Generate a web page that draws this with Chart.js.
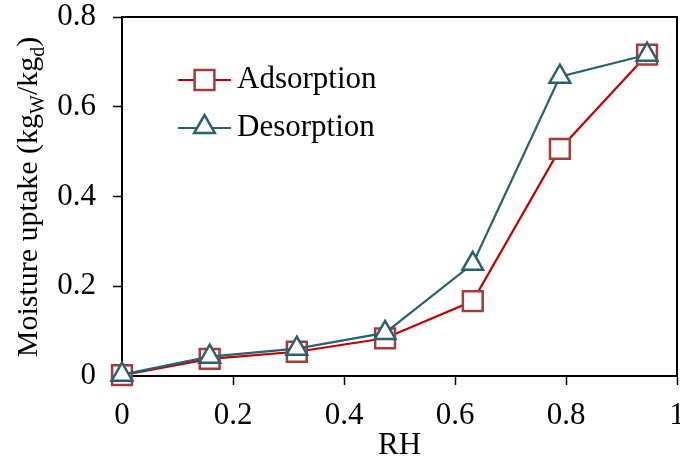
<!DOCTYPE html>
<html>
<head>
<meta charset="utf-8">
<script src="https://cdn.jsdelivr.net/npm/chart.js@4.4.1/dist/chart.umd.min.js"></script>
<style>
    html, body { margin: 0; padding: 0; background: #fff; }
    #wrap { width: 680px; height: 461px; }
</style>
</head>
<body>
<div id="wrap"><canvas id="canvas"></canvas></div>
<script>
"use strict"

/* Data */
let rh = [0, 0.158, 0.315, 0.474, 0.632, 0.789, 0.946];
let adsorption = [0.002, 0.038, 0.054, 0.084, 0.167, 0.506, 0.716];
let desorption = [0.003, 0.043, 0.061, 0.096, 0.25, 0.667, 0.716];
let seriesNames = ["Adsorption", "Desorption"];
let xTicks = [0, 0.2, 0.4, 0.6, 0.8, 1];
let yTicks = [0, 0.2, 0.4, 0.6, 0.8];

/* Colors */
let red = "#c00000";
let redMarker = "#a33c3c";
let teal = "#2a6170";

let serif = "'Liberation Serif', 'Times New Roman', serif";
let fontSize = 31;


function points(xs, ys) {
    return xs.map((x, i) => ({ x: x, y: ys[i] }));
}


// top and right border of the plot box
const frame = {
    id: "frame",
    afterDraw(chart) {
        const { ctx, chartArea: a } = chart;
        ctx.save();
        ctx.strokeStyle = "#000";
        ctx.lineWidth = 2;
        ctx.beginPath();
        ctx.moveTo(a.left, a.top);
        ctx.lineTo(a.right, a.top);
        ctx.lineTo(a.right, a.bottom);
        ctx.stroke();
        ctx.restore();
    }
};


// y title with subscripts
const yTitle = {
    id: "yTitle",
    afterDraw(chart) {
        const ctx = chart.ctx;
        const parts = [
            ["Moisture uptake (kg", false],
            ["W", true],
            ["/kg", false],
            ["d", true],
            [")", false],
        ];
        const big = "30px " + serif;
        const small = "20px " + serif;
        ctx.save();
        let total = 0;
        parts.forEach(p => {
            ctx.font = p[1] ? small : big;
            total += ctx.measureText(p[0]).width;
        });
        ctx.translate(37, 197);
        ctx.rotate(-Math.PI / 2);
        ctx.fillStyle = "#000";
        ctx.textBaseline = "alphabetic";
        let x = -total / 2;
        parts.forEach(p => {
            ctx.font = p[1] ? small : big;
            ctx.fillText(p[0], x, p[1] ? 7 : 0);
            x += ctx.measureText(p[0]).width;
        });
        ctx.restore();
    }
};


// legend drawn inside the plot: line + marker + label
const insideLegend = {
    id: "insideLegend",
    afterDraw(chart) {
        const ctx = chart.ctx;
        ctx.save();
        chart.data.datasets.slice().sort((a, b) => a.legendRank - b.legendRank).forEach((ds, i) => {
            const y = 80 + i * 48;
            ctx.strokeStyle = ds.borderColor;
            ctx.lineWidth = ds.borderWidth;
            ctx.beginPath();
            ctx.moveTo(178, y);
            ctx.lineTo(231, y);
            ctx.stroke();
            ctx.fillStyle = ds.pointBackgroundColor;
            ctx.strokeStyle = ds.pointBorderColor;
            ctx.lineWidth = ds.pointBorderWidth;
            Chart.helpers.drawPoint(ctx, {
                pointStyle: ds.pointStyle,
                radius: ds.pointRadius,
                borderWidth: ds.pointBorderWidth,
                rotation: 0
            }, 204.5, ds.pointStyle === "triangle" ? y - 1 : y);
            ctx.font = fontSize + "px " + serif;
            ctx.fillStyle = "#000";
            ctx.textBaseline = "middle";
            ctx.fillText(ds.label, 237, y);
        });
        ctx.restore();
    }
};


function createChart() {
    const canvas = document.getElementById("canvas").getContext("2d");
    const myChart = new Chart(canvas, {
        type: "line",
        data: {
            datasets: [{
                label: seriesNames[0],
                legendRank: 0,
                data: points(rh, adsorption),
                borderColor: red,
                borderWidth: 2.2,
                pointStyle: "rect",
                pointRadius: 14,
                pointBorderWidth: 2.5,
                pointBorderColor: redMarker,
                pointBackgroundColor: "#fff",
                clip: false,
                order: 2,
            }, {
                label: seriesNames[1],
                legendRank: 1,
                data: points(rh, desorption),
                borderColor: teal,
                borderWidth: 2.2,
                pointStyle: "triangle",
                pointRadius: 12,
                pointBorderWidth: 2.5,
                pointBorderColor: teal,
                pointBackgroundColor: "#fff",
                clip: false,
                order: 1,
            }]
        },
        options: {
            responsive: true,
            maintainAspectRatio: false,
            animation: false,
            layout: {
                autoPadding: false,
                padding: { top: 17, right: 3, left: 0, bottom: 0 }
            },
            scales: {
                x: {
                    type: "linear",
                    min: 0,
                    max: 1,
                    afterFit: scale => {
                        scale.height = 85;
                        scale.paddingLeft = 0;
                        scale.paddingRight = 0;
                    },
                    afterBuildTicks: scale => { scale.ticks = xTicks.map(v => ({ value: v })); },
                    border: { display: true, color: "#000", width: 2 },
                    grid: {
                        drawOnChartArea: false,
                        drawTicks: true,
                        tickLength: 9,
                        tickColor: "#000",
                        tickWidth: 1.5
                    },
                    ticks: {
                        color: "#000",
                        padding: 12,
                        maxRotation: 0,
                        font: { family: serif, size: fontSize },
                        callback: v => String(+v.toFixed(1))
                    },
                    title: {
                        display: true,
                        text: "RH",
                        color: "#000",
                        padding: { top: 0, bottom: -3 },
                        font: { family: serif, size: fontSize }
                    }
                },
                y: {
                    min: 0,
                    max: 0.8,
                    afterFit: scale => {
                        scale.width = 122;
                        scale.paddingTop = 0;
                        scale.paddingBottom = 0;
                    },
                    afterBuildTicks: scale => { scale.ticks = yTicks.map(v => ({ value: v })); },
                    border: { display: true, color: "#000", width: 2 },
                    grid: {
                        drawOnChartArea: false,
                        drawTicks: true,
                        tickLength: 9,
                        tickColor: "#000",
                        tickWidth: 1.5
                    },
                    ticks: {
                        color: "#000",
                        padding: 17,
                        font: { family: serif, size: fontSize },
                        callback: v => String(+v.toFixed(1))
                    }
                }
            },
            plugins: {
                legend: { display: false },
                tooltip: { enabled: false }
            }
        },
        plugins: [frame, yTitle, insideLegend]
    });
}


createChart();
</script>
</body>
</html>
